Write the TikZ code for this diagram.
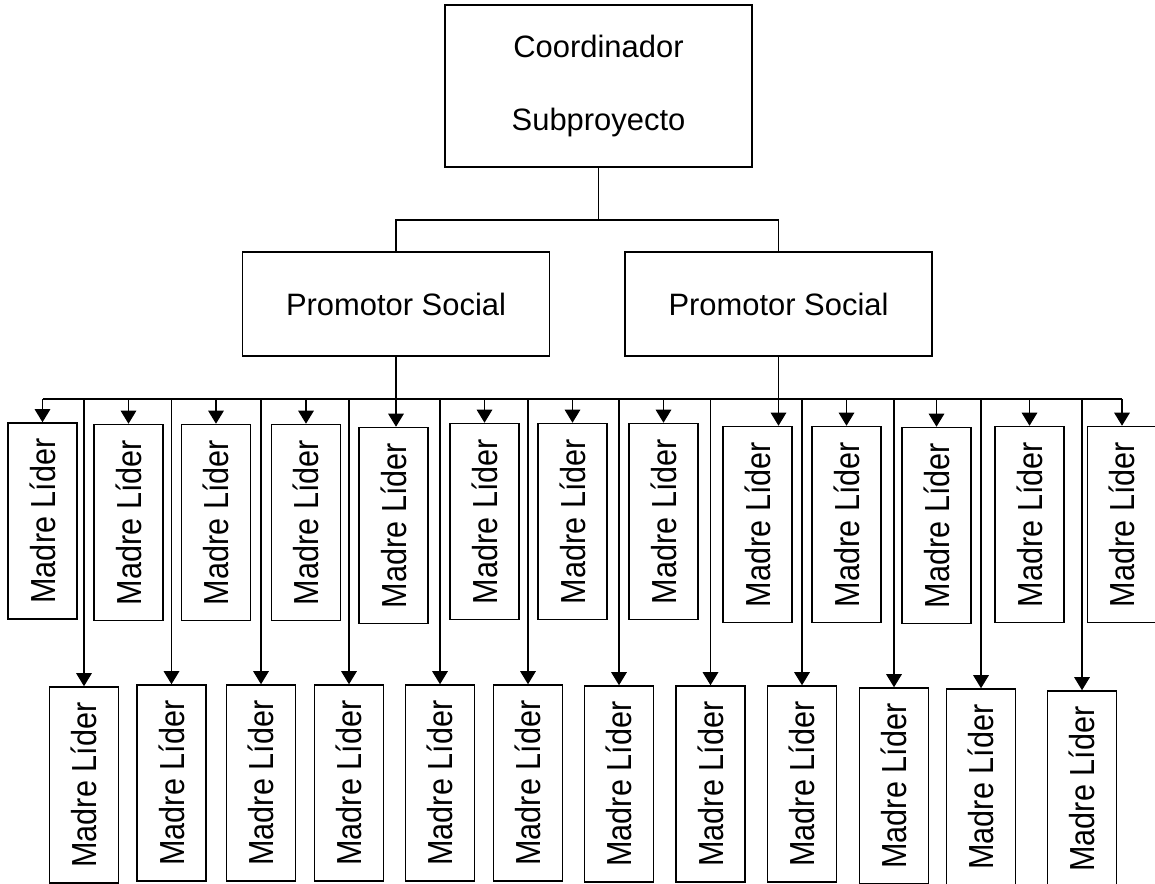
\documentclass[tikz,border=0pt]{standalone}
\usepackage{fontspec}
\setmainfont{Liberation Sans}
\newfontfamily\narrowsans[FakeStretch=0.88]{Liberation Sans}
\usepackage{graphicx}
\usetikzlibrary{arrows.meta}

\newcommand{\madre}{\rotatebox{90}{Madre Líder}}

\begin{document}
\begin{tikzpicture}[x=0.02cm, y=-0.02cm,
  jefe/.style={draw, line width=0.9pt, minimum width=6.14cm, inner sep=0pt,
    align=center, font=\fontsize{17.6}{41}\selectfont},
  lider/.style={draw, line width=0.9pt, minimum width=1.38cm, minimum height=3.92cm,
    inner sep=0pt, font=\narrowsans\fontsize{19.8}{24}\selectfont},
  link/.style={line width=0.7pt},
  arr/.style={line width=0.7pt, -{Triangle[length=0.26cm, width=0.31cm]}}]
\clip (0,0) rectangle (1155,883);

% Coordinator and the two promoters
\node[jefe, minimum height=3.24cm] (coord) at (598.5,86) {Coordinador\\Subproyecto};
\node[jefe, minimum height=2.08cm] (promL) at (396,304) {Promotor Social};
\node[jefe, minimum height=2.08cm] (promR) at (778.5,304) {Promotor Social};

% Upper row of leaders
\node[lider] (up1) at (42.5,521) {\madre};
\node[lider] (up2) at (128.5,522.5) {\madre};
\node[lider] (up3) at (216,522.5) {\madre};
\node[lider] (up4) at (306,522.5) {\madre};
\node[lider] (up5) at (393.5,525.5) {\madre};
\node[lider] (up6) at (484.5,521.5) {\madre};
\node[lider] (up7) at (572.5,521.5) {\madre};
\node[lider] (up8) at (663.5,521.5) {\madre};
\node[lider] (up9) at (757.5,524.5) {\madre};
\node[lider] (up10) at (846.5,524.5) {\madre};
\node[lider] (up11) at (936.5,525.5) {\madre};
\node[lider] (up12) at (1029.5,524.5) {\madre};
\node[lider] (up13) at (1122,524.5) {\madre};

% Lower row of leaders — runs off the bottom edge
\node[lider] (low1) at (84,785) {\madre};
\node[lider] (low2) at (171.5,783) {\madre};
\node[lider] (low3) at (261,783) {\madre};
\node[lider] (low4) at (349,783) {\madre};
\node[lider] (low5) at (440,783) {\madre};
\node[lider] (low6) at (528,783) {\madre};
\node[lider] (low7) at (619,784) {\madre};
\node[lider] (low8) at (710.5,784) {\madre};
\node[lider] (low9) at (802,784) {\madre};
\node[lider] (low10) at (894,786) {\madre};
\node[lider] (low11) at (981,787) {\madre};
\node[lider] (low12) at (1082,789) {\madre};

% Tree lines
\coordinate (split) at (598.5,220);
\coordinate (bus) at (0,399);
\draw[link] (coord.south) -- (split);
\draw[link] (promL.north) |- (split) -| (promR.north);
\draw[link] (up1.north |- bus) -- (up13.north |- bus);
\draw[arr] (promL.south) -- (promL.south |- up5.north);
\draw[arr] (promR.south) -- (promR.south |- up9.north);

% Drops from the bus
\foreach \i in {1,2,3,4,6,7,8,10,11,12,13}
  \draw[arr] (up\i.north |- bus) -- (up\i.north);
\foreach \i in {1,...,12}
  \draw[arr] (low\i.north |- bus) -- (low\i.north);
\end{tikzpicture}
\end{document}
